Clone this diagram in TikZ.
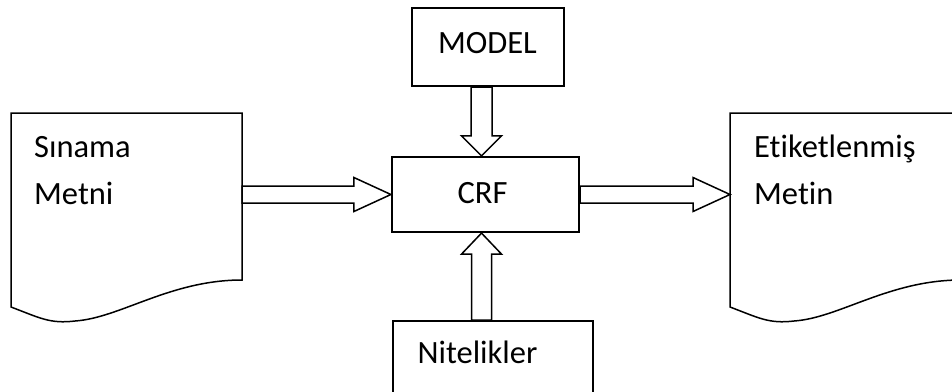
\documentclass[tikz,border=0pt]{standalone}
\usepackage{fontspec}
\setmainfont[Ligatures={NoCommon}]{Carlito}
\usetikzlibrary{calc}

\tikzset{
  x=1pt, y=-1pt,
  boxline/.style={draw=black, line width=2.2pt, fill=white, inner sep=0pt},
  docline/.style={draw=black, line width=1.5pt, line join=miter},
  arrowline/.style={draw=black, fill=white, line width=1.5pt, line join=miter},
  txt/.style={font=\fontsize{32.5}{38}\selectfont, text=black, inner sep=0pt},
  % a page with a wavy lower edge
  docpage/.pic={
    \draw[docline] (0,0) -- (231,0) -- (231,167)
      .. controls (159,167) and (109,205) .. (64,208)
      .. controls (39,211) and (29,205) .. (0,194) -- cycle;
    \coordinate (-west) at (0,81.5);
    \coordinate (-east) at (231,81.5);
  }
}

% hollow block arrow: start, tip, shaft half-width, head half-width, head length
\newcommand\fatarrow[5]{%
  \coordinate (fa-base) at ($(#2)!#5pt!(#1)$);
  \draw[arrowline] ($(#1)!#3pt!90:(#2)$) -- ($(fa-base)!#3pt!90:(#2)$)
    -- ($(fa-base)!#4pt!90:(#2)$) -- (#2) -- ($(fa-base)!#4pt!-90:(#2)$)
    -- ($(fa-base)!#3pt!-90:(#2)$) -- ($(#1)!#3pt!-90:(#2)$) -- cycle;
}

\begin{document}
\begin{tikzpicture}
\useasboundingbox (0,0) rectangle (952,391);
\clip (0,0) rectangle (952,391);

% input and output documents
\pic (src) at (11,113) {docpage};
\pic (dst) at (730,113) {docpage};
\node[txt, anchor=base west] (srcA) at (34,157) {Sınama};
\node[txt, anchor=base west] (srcB) at (34,204) {Metni};
\node[txt, anchor=base west] (dstA) at (754,157) {Etiketlenmiş};
\node[txt, anchor=base west] (dstB) at (754,204) {Metin};

% processing blocks
\node[boxline, minimum width=187pt, minimum height=75pt] (crf) at (485.5,194.5) {};
\node[txt, anchor=base] (crftext) at (482.5,203) {CRF};
\node[boxline, minimum width=152pt, minimum height=78pt] (model) at (488,47) {};
\node[txt, anchor=base] (modeltext) at (487.5,53) {MODEL};
\node[boxline, minimum width=200pt, minimum height=100pt, anchor=north west] (nit) at (392,320) {};
\node[txt, anchor=base] (nittext) at (477.5,363) {Nitelikler};

% vertical arrow axis
\coordinate (vaxis) at (481.5,0);
\coordinate (mfoot) at (vaxis |- model.south);
\coordinate (ctop) at (vaxis |- crf.north);
\coordinate (cfoot) at (vaxis |- crf.south);
\coordinate (ntop) at (vaxis |- nit.north);

% connectors
\fatarrow{src-east}{crf.west}{8.5}{17}{37}
\fatarrow{crf.east}{dst-west}{8.5}{17}{37}
\fatarrow{mfoot}{ctop}{10.5}{20}{20}
\fatarrow{ntop}{cfoot}{10}{20}{21}
\end{tikzpicture}
\end{document}
